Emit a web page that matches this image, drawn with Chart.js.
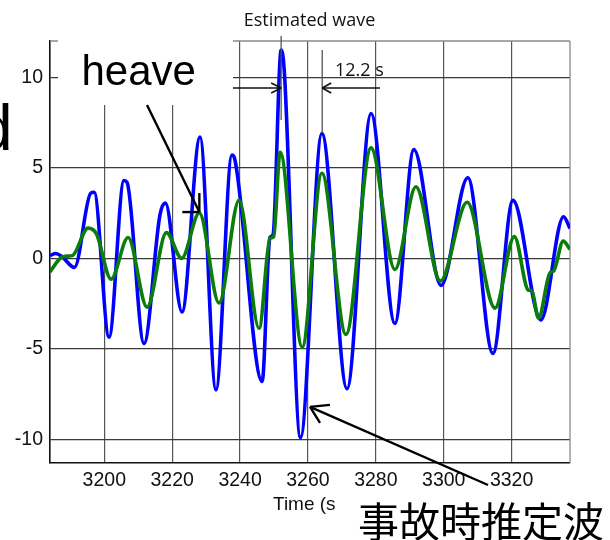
<!DOCTYPE html>
<html><head><meta charset="utf-8">
<script src="https://cdn.jsdelivr.net/npm/chart.js@4/dist/chart.umd.min.js"></script>
<style>html,body{margin:0;padding:0;background:#fff;overflow:hidden}#wrap{width:610px;height:540px;position:relative}</style>
</head><body><div id="wrap"><canvas id="c" width="610" height="540"></canvas></div>
<script>
const xTicks = [3200, 3220, 3240, 3260, 3280, 3300, 3320];
const yTicks = [-10, -5, 0, 5, 10];
const estTime = [3184.0, 3185.7, 3187.5, 3191.2, 3196.0, 3197.0, 3201.4, 3205.8, 3206.7, 3211.7, 3216.4, 3218.0, 3222.9, 3228.2, 3232.9, 3237.6, 3238.4, 3246.5, 3248.8, 3249.7, 3252.1, 3253.0, 3257.8, 3264.1, 3271.5, 3278.6, 3285.6, 3291.2, 3299.2, 3307.1, 3314.5, 3320.4, 3328.6, 3335.3, 3337.2];
const estWave = [0.15, 0.27, 0.1, -0.5, 3.6, 3.65, -4.35, 4.3, 4.2, -4.7, 2.4, 3.05, -2.96, 6.7, -7.27, 5.7, 5.5, -6.8, 1.15, 1.3, 11.5, 10.4, -9.9, 6.9, -7.2, 8.0, -3.6, 6.0, -1.5, 4.45, -5.25, 3.2, -3.4, 2.3, 1.65];
const heaveTime = [3184.0, 3187.0, 3189.0, 3190.6, 3195.2, 3197.7, 3202.0, 3207.0, 3212.6, 3218.3, 3222.8, 3228.0, 3233.8, 3239.7, 3245.6, 3248.8, 3249.9, 3251.8, 3258.3, 3264.1, 3271.2, 3278.6, 3285.6, 3291.8, 3299.0, 3306.9, 3315.1, 3320.8, 3324.9, 3326.0, 3327.9, 3331.3, 3332.4, 3335.2, 3337.2];
const heaveVal = [-0.75, 0.0, 0.12, 0.15, 1.67, 1.35, -1.15, 1.15, -2.7, 1.42, 0.0, 2.5, -2.47, 3.2, -3.86, 1.1, 1.2, 5.86, -4.9, 4.7, -4.2, 6.1, -0.62, 3.95, -1.25, 3.1, -2.75, 1.2, -1.75, -1.8, -3.3, -0.8, -0.7, 0.95, 0.5];

const xTitle = 'Time (s';
const topLabel = 'Estimated wave';
const periodLabel = '12.2 s';
const heaveLabel = 'heave';
const jpLabel = '事故時推定波';

const ARIAL = '"Liberation Sans", Arial, sans-serif';

function line(ctx, x1, y1, x2, y2) { ctx.beginPath(); ctx.moveTo(x1, y1); ctx.lineTo(x2, y2); ctx.stroke(); }

const overlay = {
  id: 'overlay',
  beforeDatasetsDraw(chart) {
    const ctx = chart.ctx, a = chart.chartArea;
    ctx.save();
    ctx.strokeStyle = '#8a8a8a'; ctx.lineWidth = 1.3;
    line(ctx, a.left, a.top, a.right, a.top);
    line(ctx, a.right, a.top, a.right, a.bottom);
    ctx.fillStyle = '#fff';
    ctx.fillRect(58, 37, 175, 68);
    ctx.restore();
  },
  afterDraw(chart) {
    const ctx = chart.ctx, xs = chart.scales.x, ys = chart.scales.y;
    const X = v => xs.getPixelForValue(v), Y = v => ys.getPixelForValue(v);
    ctx.save();
    ctx.font = '18px "Open Sans", sans-serif'; ctx.textAlign = 'center'; ctx.textBaseline = 'alphabetic';
    ctx.fillStyle = '#111';
    ctx.fillText(topLabel, 309.5, 26);
    ctx.strokeStyle = '#555'; ctx.lineWidth = 1.3;
    const p1 = X(3252.1), p2 = X(3264.2);
    line(ctx, p1, 36, p1, 120);
    line(ctx, p2, 50, p2, 133);
    ctx.strokeStyle = '#111'; ctx.lineWidth = 1.6;
    const ay = 88;
    line(ctx, 233, ay, p1, ay);
    line(ctx, p1 - 10, ay - 5, p1, ay); line(ctx, p1 - 10, ay + 5, p1, ay);
    line(ctx, 380, ay, p2, ay);
    line(ctx, p2 + 9, ay - 5, p2, ay); line(ctx, p2 + 9, ay + 5, p2, ay);
    ctx.textAlign = 'left'; ctx.fillStyle = '#111';
    ctx.fillText(periodLabel, 335, 76);
    ctx.fillStyle = '#000';
    ctx.font = '42px ' + ARIAL;
    ctx.fillText(heaveLabel, 81.5, 85);
    ctx.font = '64px ' + ARIAL;
    ctx.fillText('d', -23, 150);
    ctx.strokeStyle = '#000'; ctx.lineWidth = 2.4;
    const hx = X(3228.0), hy = Y(2.5) - 1;
    line(ctx, 147, 105, hx, hy);
    line(ctx, hx - 17, hy, hx, hy);
    line(ctx, hx, hy - 19, hx, hy);
    const jx = X(3260.6), jy = Y(-8.2);
    line(ctx, 488, 485, jx, jy);
    line(ctx, jx + 20, jy - 2, jx, jy);
    line(ctx, jx + 10, jy + 16, jx, jy);
    ctx.font = '19px ' + ARIAL; ctx.fillStyle = '#111';
    ctx.fillText(xTitle, 273, 510);
    ctx.font = '41px "Noto Sans CJK JP", sans-serif'; ctx.fillStyle = '#000';
    ctx.fillText(jpLabel, 358, 537);
    ctx.restore();
  }
};

new Chart(document.getElementById('c'), {
  type: 'line',
  data: {
    datasets: [
      { label: 'heave', data: heaveTime.map((t, i) => ({ x: t, y: heaveVal[i] })),
        borderColor: '#0a7d0a', borderWidth: 3.6, pointRadius: 0, cubicInterpolationMode: 'monotone', order: 0 },
      { label: 'Estimated wave', data: estTime.map((t, i) => ({ x: t, y: estWave[i] })),
        borderColor: '#0000ff', borderWidth: 3.6, pointRadius: 0, cubicInterpolationMode: 'monotone', order: 1 }
    ]
  },
  options: {
    responsive: false, animation: false, devicePixelRatio: 1,
    layout: { padding: { top: 41, right: 40, left: 0, bottom: 0 } },
    plugins: { legend: { display: false }, tooltip: { enabled: false } },
    scales: {
      x: {
        type: 'linear', min: 3184, max: 3337.2,
        afterBuildTicks: s => { s.ticks = xTicks.map(v => ({ value: v })); },
        afterFit: s => { s.height = 77; },
        ticks: { callback: v => String(v), color: '#111', padding: 6, maxRotation: 0, autoSkip: false,
                 font: { family: ARIAL, size: 19.5 } },
        grid: { color: '#555', lineWidth: 1.2, drawTicks: false },
        border: { display: true, color: '#111', width: 1.6 }
      },
      y: {
        type: 'linear', min: -11.3, max: 12,
        afterBuildTicks: s => { s.ticks = yTicks.map(v => ({ value: v })); },
        afterFit: s => { s.width = 50; },
        ticks: { callback: v => String(v), color: '#111', padding: 7,
                 font: { family: ARIAL, size: 19.5 } },
        grid: { color: '#3a3a3a', lineWidth: 1.2, drawTicks: false },
        border: { display: true, color: '#111', width: 1.6 }
      }
    }
  },
  plugins: [overlay]
});
</script></body></html>
